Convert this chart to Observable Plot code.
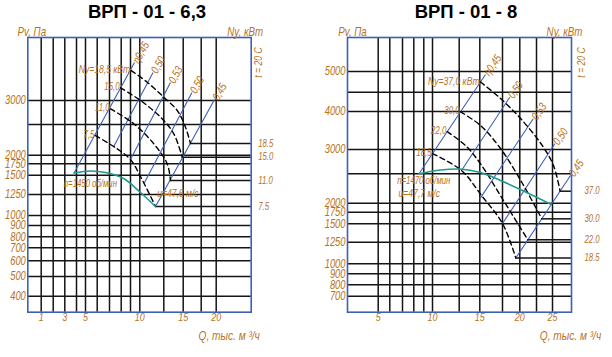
<!DOCTYPE html>
<html><head><meta charset="utf-8">
<script src="https://cdn.jsdelivr.net/npm/d3@7"></script>
<script src="https://cdn.jsdelivr.net/npm/@observablehq/plot@0.6"></script>
<style>
body{margin:0;background:#fff;}
#wrap{display:flex;width:612px;height:357px;overflow:hidden;}
.panel{position:relative;width:306px;height:357px;}
.panel svg{position:absolute;left:0;top:0;overflow:visible;}
.title{position:absolute;top:2.5px;font:bold 18.5px "Liberation Sans",Arial,sans-serif;line-height:1;white-space:nowrap;transform:translateX(-50%);color:#000;z-index:2;}
</style></head><body><div id="wrap"></div><script>
// ---------- Left chart: ВРП - 01 - 6,3 ----------
const L_title = "ВРП - 01 - 6,3";
const L_xGrid = [1,2,3,4,5,6,7,8,9,10,12.5,15,17.5,20];
const L_xTicks = [1,3,5,10,15,20];
const L_yGrid = [400,500,600,700,800,900,1000,1250,1500,1750,2000,2500,3000];
const L_yTicks = [400,500,600,700,800,900,1000,1250,1500,1750,2000,3000];
const L_fanQ = [3.79,5.43,6.67,8.25,10.07,11.64];
const L_fanP = [1550,1594,1561,1458,1276,1107];
const L_eta = ["η0,45","0,50","0,53","0,50","0,45"];
const L_etaTopQ = [9.43,11.38,13.36,16.22,19.72];
const L_etaTopP = [3783,3577,3371,3165,3021];
const L_etaBotQ = [3.79,7.34,9,10.44,11.64];
const L_etaBotP = [1550,2133,1875,1393,1107];
const L_power = ["7.5","11.0","15.0","18.5"];
const L_powerLabel = ["7,5","11,0","15,0","Ny=18,5 кВт"];
const L_powerQ = [
  [5.85,7.65,9,10.07,11.64],
  [7.09,9.35,11.46,12.94,13.36],
  [7.94,10.07,12.16,13.79,14.87],
  [9.08,10.77,12.5,14.23,15.32,16.01]
];
const L_powerP = [
  [2320,2105,1875,1484,1107],
  [2827,2515,2185,1750,1432],
  [3262,3000,2653,2348,1942],
  [3618,3377,3068,2792,2456,2190]
];
const L_speed = "n=1450 об/мин", L_speedQ = 2.91, L_speedP = 1390;
const L_vel = "u=47,6 м/с", L_velQ = 11.81, L_velP = 1259;

// ---------- Right chart: ВРП - 01 - 8 ----------
const R_title = "ВРП - 01 - 8";
const R_xGrid = [5,6,7,8,9,10,12.5,15,17.5,20,22.5,25];
const R_xTicks = [5,10,15,20,25];
const R_yGrid = [700,800,900,1000,1250,1500,1750,2000,2500,3000,4000,4500,5000];
const R_yTicks = [700,800,900,1000,1250,1500,1750,2000,3000,4000,5000];
const R_fanQ = [8.52,10.75,12.54,15.08,17.28,20.4,24.81];
const R_fanP = [2500,2578,2598,2527,2386,2216,1964];
const R_eta = ["η0,45","0,50","0,53","0,50","0,45"];
const R_etaTopQ = [15.63,18.55,22.01,25.36,27.84];
const R_etaTopP = [4927,4370,3808,3150,2471];
const R_etaBotQ = [8.52,12.78,15.0,17.5,19.42];
const R_etaBotP = [2500,2568,2073,1506,1067];
const R_power = ["18.5","22.0","30.0","37.0"];
const R_powerLabel = ["18,5","22,0","30,0","Ny=37,0 кВт"];
const R_powerQ = [
  [10,12.78,15.19,17.5,19.42],
  [11.38,13.26,15.08,17.64,21.21],
  [12.66,15.08,17.28,20.4,23.33],
  [15.08,17.28,20.25,23.39,25.16,26.2]
];
const R_powerP = [
  [2916,2568,2131,1506,1067],
  [3469,3106,2705,2046,1282],
  [3992,3632,3027,2335,1607],
  [4746,4337,3789,3106,2670,2204]
];
const R_speed = "n=1470 об/мин", R_speedQ = 6.58, R_speedP = 2386;
const R_vel = "u=47,7 м/с", R_velQ = 6.69, R_velP = 2160;

// scale calibration of the nomogram paper (value -> pixel), frame settings
const CFG = {
  left: {
    xCal:{domain:[0,1,2,3,4,5,6,7,8,9,10,12.5,15,17.5,20,26], range:[27.3,40.7,52.7,64.3,76,85,96.7,109,120.7,130,139.3,163.3,182.7,200.7,215.7,250.7]},
    yCal:{domain:[320,400,500,600,700,800,900,1000,1250,1500,1750,2000,2500,3000,4300], range:[311.7,295.7,276,260.3,247.3,236.3,225,215,194,174.8,163.3,154.7,124,100,37]},
    margin:{left:27.3,right:55.3,top:37,bottom:45.3},
    etaAngle:-61, rightDx:7, tQ:27.25, tP:3783, titleX:147,
    pvDx:4, nyDx:-6, qDx:-22
  },
  right: {
    xCal:{domain:[2.5,5,6,7,8,9,10,12.5,15,17.5,20,22.5,25,28], range:[41,71.7,83.3,96,107.3,117.3,126,152.7,173.3,196,213.3,230,246,265]},
    yCal:{domain:[560,700,800,900,1000,1250,1500,1750,2000,2500,3000,4000,4500,5000,5800], range:[311.7,295.7,284.3,273.3,263.3,241.7,223.3,211.7,202.7,173.3,149,111,91.7,71,37]},
    margin:{left:41,right:41,top:37,bottom:45.3},
    etaAngle:-56, rightDx:13, tQ:29.5, tP:5212, titleX:160,
    pvDx:5, nyDx:-7, qDx:-1
  }
};

const FONT = '"Liberation Sans",Arial,sans-serif';
const SQUEEZE = 0.78; // narrow drafting-style lettering
const ORANGE = "#b8721c";
const BLUE = "#3d5fb8";
const TEAL = "#1f9a8c";
const GRID = "#141414";

function build(d, cfg){
  const fan = d.fanQ.map((q,i)=>({q, p:d.fanP[i]}));
  const eta = d.eta.map((label,i)=>({label, q1:d.etaTopQ[i], p1:d.etaTopP[i], q2:d.etaBotQ[i], p2:d.etaBotP[i]}));
  const power = d.power.flatMap((n,i)=>d.powerQ[i].map((q,j)=>({n, q, p:d.powerP[i][j]})));
  const ends = d.power.map((n,i)=>({n, label:d.powerLabel[i], q0:d.powerQ[i][0], p0:d.powerP[i][0], q:d.powerQ[i].at(-1), p:d.powerP[i].at(-1)}));
  const xMax = cfg.xCal.domain.at(-1);
  const txt = {fill:ORANGE, fontFamily:FONT, fontStyle:"italic"};
  const svg = Plot.plot({
    width:306, height:357,
    marginLeft:cfg.margin.left, marginRight:cfg.margin.right, marginTop:cfg.margin.top, marginBottom:cfg.margin.bottom,
    x:{type:"linear", domain:cfg.xCal.domain, range:cfg.xCal.range, axis:null},
    y:{type:"linear", domain:cfg.yCal.domain, range:cfg.yCal.range, axis:null},
    style:{fontFamily:FONT, fontSize:"11px", background:"transparent", overflow:"visible"},
    marks:[
      Plot.ruleX(d.xGrid, {x:v=>v, stroke:GRID, strokeWidth:1.5}),
      Plot.ruleY(d.yGrid, {y:v=>v, stroke:GRID, strokeWidth:1.5}),
      Plot.ruleY(ends, {y:"p", x1:"q", x2:()=>xMax, stroke:GRID, strokeWidth:1.5}),
      Plot.frame({stroke:BLUE, strokeWidth:1.6}),
      Plot.link(eta, {x1:"q1", y1:"p1", x2:"q2", y2:"p2", stroke:BLUE, strokeWidth:1.1}),
      Plot.line(power, {x:"q", y:"p", z:"n", curve:"catmull-rom", stroke:"#000", strokeWidth:1.4, strokeDasharray:"5,3.5"}),
      Plot.line(fan, {x:"q", y:"p", curve:"catmull-rom", stroke:TEAL, strokeWidth:1.6}),
      Plot.text(eta, {x:"q1", y:"p1", text:"label", rotate:cfg.etaAngle, textAnchor:"start", dx:1, fontSize:11.5, ...txt}),
      Plot.text(ends, {x:"q0", y:"p0", text:"label", textAnchor:"end", dx:-1, dy:-1, fontSize:e=>e.label.length>5?11:10, ...txt}),
      Plot.text(ends, {y:"p", text:"n", frameAnchor:"right", textAnchor:"start", dx:cfg.rightDx, fontSize:10, ...txt}),
      Plot.text(d.yTicks, {y:v=>v, text:v=>String(v), frameAnchor:"left", textAnchor:"end", dx:-2, fontSize:12, ...txt}),
      Plot.text(d.xTicks, {x:v=>v, text:v=>String(v), frameAnchor:"bottom", dy:9, fontSize:11.5, ...txt}),
      Plot.text([d.speed], {x:()=>d.speedQ, y:()=>d.speedP, text:v=>v, textAnchor:"start", fontSize:10, ...txt}),
      Plot.text([d.vel], {x:()=>d.velQ, y:()=>d.velP, text:v=>v, textAnchor:"start", fontSize:11, ...txt}),
      Plot.text(["t = 20 С"], {x:()=>cfg.tQ, y:()=>cfg.tP, text:v=>v, rotate:-90, fontSize:11, ...txt}),
      Plot.text(["Pv, Па"], {frameAnchor:"top-left", text:v=>v, dx:cfg.pvDx, dy:-10, textAnchor:"middle", fontSize:12.5, ...txt}),
      Plot.text(["Ny, кВт"], {frameAnchor:"top-right", text:v=>v, dx:cfg.nyDx, dy:-10, textAnchor:"middle", fontSize:12.5, ...txt}),
      Plot.text(["Q, тыс. м ³/ч"], {frameAnchor:"bottom-right", text:v=>v, dx:cfg.qDx, dy:28, textAnchor:"middle", fontSize:13, ...txt})
    ]
  });
  // narrow the lettering along its own direction
  svg.querySelectorAll("text").forEach(el => {
    const x = el.getAttribute("x");
    if (x) el.setAttribute("x", +x / SQUEEZE);
    el.setAttribute("transform", (el.getAttribute("transform") || "") + ` scale(${SQUEEZE},1)`);
  });
  return svg;
}

const wrap = document.getElementById("wrap");
const sets = [
  [{title:L_title, xGrid:L_xGrid, xTicks:L_xTicks, yGrid:L_yGrid, yTicks:L_yTicks, fanQ:L_fanQ, fanP:L_fanP,
    eta:L_eta, etaTopQ:L_etaTopQ, etaTopP:L_etaTopP, etaBotQ:L_etaBotQ, etaBotP:L_etaBotP,
    power:L_power, powerLabel:L_powerLabel, powerQ:L_powerQ, powerP:L_powerP,
    speed:L_speed, speedQ:L_speedQ, speedP:L_speedP, vel:L_vel, velQ:L_velQ, velP:L_velP}, CFG.left],
  [{title:R_title, xGrid:R_xGrid, xTicks:R_xTicks, yGrid:R_yGrid, yTicks:R_yTicks, fanQ:R_fanQ, fanP:R_fanP,
    eta:R_eta, etaTopQ:R_etaTopQ, etaTopP:R_etaTopP, etaBotQ:R_etaBotQ, etaBotP:R_etaBotP,
    power:R_power, powerLabel:R_powerLabel, powerQ:R_powerQ, powerP:R_powerP,
    speed:R_speed, speedQ:R_speedQ, speedP:R_speedP, vel:R_vel, velQ:R_velQ, velP:R_velP}, CFG.right]
];
for (const [d, cfg] of sets) {
  const panel = document.createElement("div");
  panel.className = "panel";
  panel.appendChild(build(d, cfg));
  const t = document.createElement("div");
  t.className = "title";
  t.style.left = cfg.titleX + "px";
  t.textContent = d.title;
  panel.appendChild(t);
  wrap.appendChild(panel);
}
</script></body></html>
